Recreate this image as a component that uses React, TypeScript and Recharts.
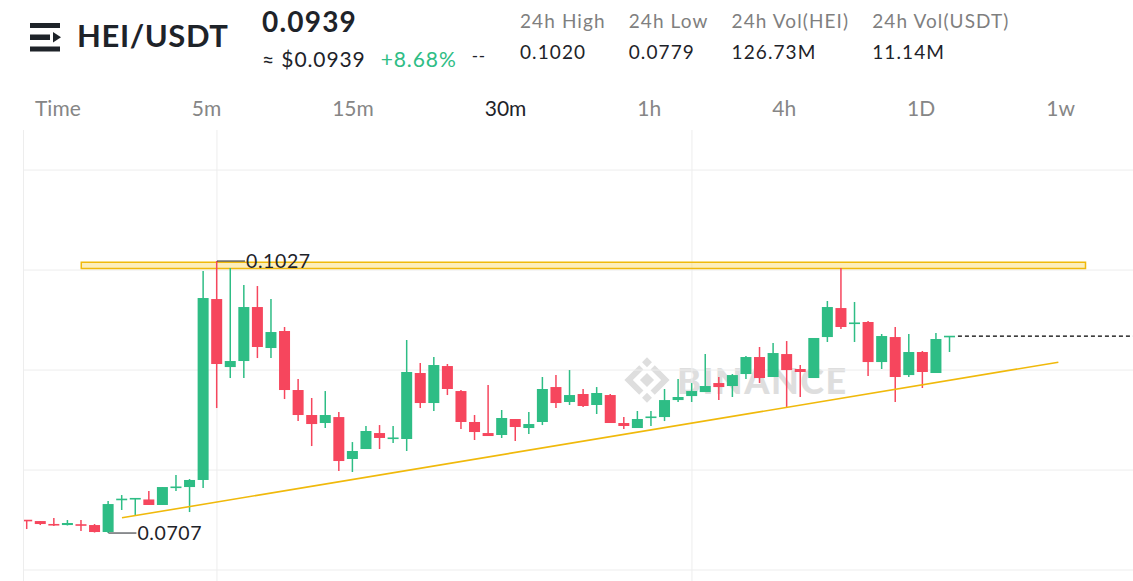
import React from 'react';
import {
  ComposedChart,
  Bar,
  XAxis,
  YAxis,
  CartesianGrid,
  ReferenceLine,
  ReferenceArea,
  ReferenceDot,
} from 'recharts';

// HEI/USDT 30m candles
const opens = [
  0.07224, 0.07212, 0.07177, 0.07165, 0.07171, 0.07165, 0.07083, 0.0746, 0.07466, 0.07466,
  0.07401, 0.076, 0.07612, 0.07695, 0.09823, 0.09023, 0.09094, 0.09729, 0.09247, 0.09447,
  0.08753, 0.08459, 0.08365, 0.08435, 0.07942, 0.08059, 0.08247, 0.08177, 0.08177, 0.08953,
  0.086, 0.09035, 0.08741, 0.08377, 0.08247, 0.08224, 0.08412, 0.08306, 0.08377, 0.08788,
  0.08612, 0.08706, 0.08577, 0.08694, 0.08365, 0.08306, 0.08424, 0.08435, 0.08635, 0.08682,
  0.08729, 0.08835, 0.088, 0.08941, 0.09141, 0.08906, 0.09176, 0.09, 0.08894, 0.09376,
  0.09717, 0.09529, 0.09553, 0.09082, 0.09376, 0.08929, 0.092, 0.08953, 0.09376,
];
const highs = [
  0.07224, 0.07212, 0.07248, 0.07224, 0.07224, 0.07177, 0.07448, 0.07518, 0.07483, 0.07565,
  0.07612, 0.07753, 0.07706, 0.10152, 0.1027, 0.10188, 0.09988, 0.09976, 0.09823, 0.09494,
  0.08882, 0.08659, 0.08741, 0.08494, 0.08141, 0.0833, 0.08341, 0.0833, 0.09341, 0.09071,
  0.09141, 0.09059, 0.08753, 0.08459, 0.08812, 0.08518, 0.08412, 0.08494, 0.08906, 0.08929,
  0.08988, 0.08765, 0.08788, 0.08706, 0.08435, 0.08506, 0.08506, 0.08765, 0.08882, 0.08835,
  0.09176, 0.08906, 0.08941, 0.09153, 0.09259, 0.09306, 0.09329, 0.09047, 0.09365, 0.098,
  0.10188, 0.09788, 0.09564, 0.09412, 0.09494, 0.09412, 0.09212, 0.09423, 0.09388,
];
const lows = [
  0.07118, 0.07165, 0.07154, 0.0716, 0.07095, 0.07077, 0.07071, 0.07342, 0.07283, 0.07401,
  0.07401, 0.07565, 0.07318, 0.076, 0.08541, 0.08894, 0.08894, 0.09129, 0.09129, 0.08647,
  0.08388, 0.08094, 0.08306, 0.078, 0.07789, 0.08059, 0.08059, 0.0813, 0.08036, 0.08541,
  0.08506, 0.08694, 0.08294, 0.08165, 0.08212, 0.08189, 0.08153, 0.08236, 0.08341, 0.08541,
  0.08577, 0.08553, 0.08471, 0.08365, 0.08294, 0.08306, 0.0833, 0.08388, 0.08612, 0.08612,
  0.08729, 0.08635, 0.08671, 0.08882, 0.08835, 0.08906, 0.08553, 0.08671, 0.08894, 0.09318,
  0.0947, 0.09318, 0.08918, 0.09, 0.08612, 0.08906, 0.08777, 0.08953, 0.092,
];
const closes = [
  0.07212, 0.07177, 0.0716, 0.07189, 0.0716, 0.07083, 0.07412, 0.07472, 0.07483, 0.07401,
  0.07612, 0.07618, 0.07695, 0.09835, 0.09059, 0.09094, 0.09729, 0.09259, 0.09435, 0.08753,
  0.08459, 0.08353, 0.08459, 0.07918, 0.08036, 0.08271, 0.08189, 0.08194, 0.08965, 0.086,
  0.09047, 0.08765, 0.08377, 0.08259, 0.08212, 0.08424, 0.08318, 0.08353, 0.08765, 0.086,
  0.08694, 0.08565, 0.08718, 0.08365, 0.0833, 0.08412, 0.08441, 0.08635, 0.08671, 0.08741,
  0.088, 0.08788, 0.08929, 0.09141, 0.08894, 0.09188, 0.08988, 0.08965, 0.09365, 0.09729,
  0.09494, 0.09547, 0.09082, 0.09388, 0.08906, 0.092, 0.08965, 0.09353, 0.09388,
];

const intervals = ['Time', '5m', '15m', '30m', '1h', '4h', '1D', '1w'];
const activeInterval = '30m';
const statLabels = ['24h High', '24h Low', '24h Vol(HEI)', '24h Vol(USDT)'];
const statValues = ['0.1020', '0.0779', '126.73M', '11.14M'];
const changePct = '+8.68%';

const priceDomain = [0.06507, 0.11811];
const indexDomain = [-0.22, 81.5];
const gridPrices = [0.06636, 0.07812, 0.08988, 0.10164, 0.1134];
const gridIndices = [14, 49];
const resistanceBand = [0.10182, 0.10255];
const resistanceSpan = [4, 78];
const trendStart = { x: 7, y: 0.0725 };
const trendEnd = { x: 76, y: 0.0908 };

const GREEN = '#2EBD85';
const RED = '#F6465D';
const YELLOW = '#F0B90B';
const TEXT = '#1E2329';
const FONT = 'Lato, sans-serif';

const data = opens.map((open, i) => ({
  idx: i,
  open,
  high: highs[i],
  low: lows[i],
  close: closes[i],
}));

const lastClose = closes[closes.length - 1];
const hiIdx = highs.indexOf(Math.max(...highs));
const loIdx = lows.indexOf(Math.min(...lows));

const Candle = (props: any) => {
  const { x, y, width, height, payload } = props;
  if (!payload) return null;
  const { open, close, high, low } = payload;
  const top = Math.min(y, y + height);
  const span = Math.abs(height);
  const ratio = high > low ? span / (high - low) : 0;
  const color = close >= open ? GREEN : RED;
  let bodyTop = top + (high - Math.max(open, close)) * ratio;
  let bodyH = Math.abs(open - close) * ratio;
  if (bodyH < 1.6) {
    bodyTop -= (1.6 - bodyH) / 2;
    bodyH = 1.6;
  }
  const cx = x + width / 2;
  return (
    <g>
      <line x1={cx} x2={cx} y1={top} y2={top + span} stroke={color} strokeWidth={1.5} />
      <rect x={x} y={bodyTop} width={width} height={bodyH} fill={color} />
    </g>
  );
};

const PriceTag = (props: any) => {
  const { cx, cy, text } = props;
  return (
    <g>
      <line x1={cx} x2={cx + 28} y1={cy} y2={cy} stroke={TEXT} strokeWidth={1} />
      <text
        x={cx + 29}
        y={cy + 7}
        fontSize={19.5}
        letterSpacing={0.6}
        fontFamily={FONT}
        fill={TEXT}
      >
        {text}
      </text>
    </g>
  );
};

const BinanceMark = () => (
  <div
    style={{
      position: 'absolute',
      left: 624,
      top: 357,
      display: 'flex',
      alignItems: 'center',
      gap: 7,
    }}
  >
    <svg width={46} height={46} viewBox="-23 -23 46 46">
      <g fill="#DEDEDE" transform="rotate(45)">
        <rect x={-5} y={-5} width={10} height={10} />
        <rect x={-16} y={-16} width={7} height={7} />
        <rect x={9} y={9} width={7} height={7} />
        <path d="M-5 -16 H16 V5 H10 V-10 H-5 Z" />
        <path d="M5 16 H-16 V-5 H-10 V10 H5 Z" />
      </g>
    </svg>
    <span
      style={{
        fontFamily: FONT,
        fontWeight: 900,
        fontSize: 36,
        color: '#DEDEDE',
        letterSpacing: 1.5,
      }}
    >
      BINANCE
    </span>
  </div>
);

export default function App() {
  return (
    <div
      style={{
        position: 'absolute',
        top: 0,
        left: 0,
        width: 1133,
        height: 581,
        background: '#fff',
        overflow: 'hidden',
        fontFamily: FONT,
        color: TEXT,
      }}
    >
      {/* header */}
      <svg style={{ position: 'absolute', left: 30, top: 22 }} width={32} height={32}>
        <rect x={0} y={1} width={30} height={5} fill={TEXT} />
        <rect x={0} y={12.5} width={20} height={5.5} fill={TEXT} />
        <path d="M23 10 L31 15.2 L23 20.5 Z" fill={TEXT} />
        <rect x={0} y={24.5} width={30} height={5} fill={TEXT} />
      </svg>
      <div
        style={{
          position: 'absolute',
          left: 77,
          top: 17,
          fontSize: 31,
          fontWeight: 700,
          letterSpacing: 0.6,
          lineHeight: 1.2,
        }}
      >
        HEI/USDT
      </div>
      <div
        style={{
          position: 'absolute',
          left: 262,
          top: 5,
          fontSize: 28,
          fontWeight: 700,
          letterSpacing: 1.2,
          lineHeight: 1.2,
        }}
      >
        {lastClose.toFixed(4)}
      </div>
      <div
        style={{
          position: 'absolute',
          left: 262,
          top: 46,
          fontSize: 21,
          letterSpacing: 0.9,
          lineHeight: 1.2,
          whiteSpace: 'nowrap',
        }}
      >
        ≈ ${lastClose.toFixed(4)}
        <span style={{ color: GREEN, marginLeft: 15 }}>{changePct}</span>
        <span style={{ marginLeft: 15, fontSize: 17, position: 'relative', top: -5 }}>--</span>
      </div>
      <div style={{ position: 'absolute', left: 520, top: 10, display: 'flex', gap: 23 }}>
        {statLabels.map((label, i) => (
          <div key={label} style={{ lineHeight: 1.2 }}>
            <div style={{ fontSize: 19, letterSpacing: 1.1, color: '#7F7F7F' }}>{label}</div>
            <div style={{ fontSize: 19, letterSpacing: 1.1, marginTop: 8 }}>{statValues[i]}</div>
          </div>
        ))}
      </div>
      <div
        style={{
          position: 'absolute',
          left: 35,
          top: 95,
          width: 1040,
          display: 'flex',
          justifyContent: 'space-between',
          fontSize: 21,
          lineHeight: 1.2,
        }}
      >
        {intervals.map((t) => (
          <span key={t} style={{ color: t === activeInterval ? TEXT : '#868686' }}>
            {t}
          </span>
        ))}
      </div>

      {/* chart */}
      <div style={{ position: 'absolute', left: 23, top: 130, width: 1, height: 451, background: '#EDEDED' }} />
      <BinanceMark />
      <div style={{ position: 'absolute', left: 24, top: 130 }}>
        <ComposedChart
          width={1109}
          height={451}
          data={data}
          margin={{ top: 0, right: 0, bottom: 0, left: 0 }}
        >
          <CartesianGrid stroke="#EDEDED" syncWithTicks />
          <XAxis
            dataKey="idx"
            type="number"
            domain={indexDomain}
            ticks={gridIndices}
            allowDataOverflow
            hide
          />
          <YAxis type="number" domain={priceDomain} ticks={gridPrices} allowDataOverflow hide />
          <ReferenceDot
            x={hiIdx}
            y={highs[hiIdx]}
            r={0}
            shape={(p: any) => <PriceTag {...p} text={highs[hiIdx].toFixed(4)} />}
          />
          <ReferenceDot
            x={loIdx}
            y={lows[loIdx]}
            r={0}
            shape={(p: any) => <PriceTag {...p} text={lows[loIdx].toFixed(4)} />}
          />
          <ReferenceArea
            x1={resistanceSpan[0]}
            x2={resistanceSpan[1]}
            y1={resistanceBand[0]}
            y2={resistanceBand[1]}
            fill="#F8D96A"
            fillOpacity={0.45}
            stroke={YELLOW}
            strokeWidth={1.5}
          />
          <ReferenceLine segment={[trendStart, trendEnd]} stroke={YELLOW} strokeWidth={1.6} />
          <ReferenceLine
            segment={[
              { x: data.length - 0.4, y: lastClose },
              { x: indexDomain[1], y: lastClose },
            ]}
            stroke="#000"
            strokeDasharray="4 3"
            strokeWidth={1.2}
          />
          <Bar
            dataKey={(d: any) => [d.low, d.high]}
            barSize={11}
            shape={Candle}
            isAnimationActive={false}
          />
        </ComposedChart>
      </div>
    </div>
  );
}
